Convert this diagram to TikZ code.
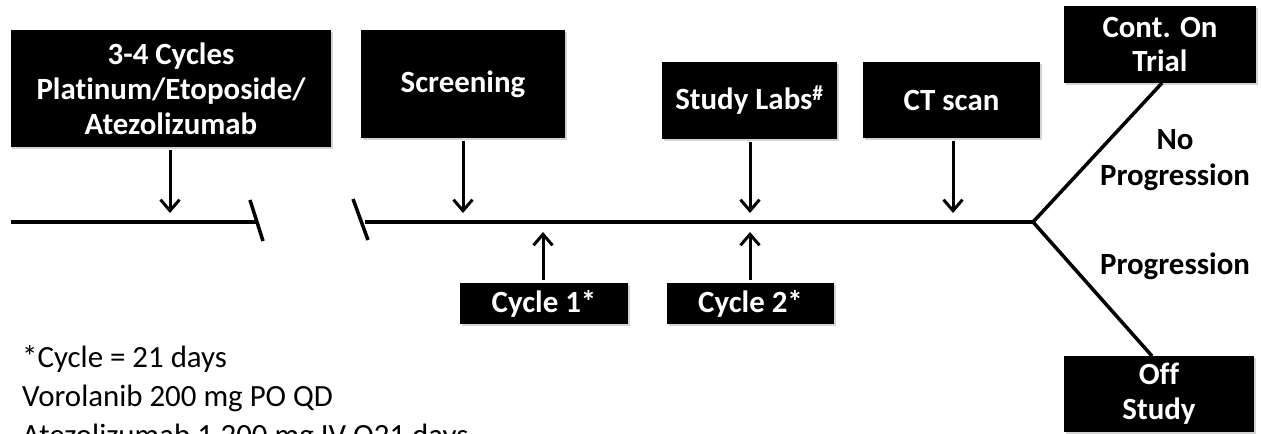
\documentclass[tikz,border=0pt]{standalone}
\usepackage{fontspec}
\setmainfont[Ligatures=NoCommon]{Carlito}
\usetikzlibrary{arrows.meta,shadows}
\tikzset{
  blk/.style={fill=black, text=white, font=\bfseries\fontsize{31}{35}\selectfont, align=center,
     inner sep=0pt, drop shadow={opacity=0.35, shadow xshift=1.5bp, shadow yshift=-2bp}},
  lbl/.style={font=\bfseries\fontsize{31}{36}\selectfont, align=center, inner sep=0pt},
  foot/.style={anchor=base west, inner sep=0pt, font=\fontsize{31}{39}\selectfont},
  tl/.style={line width=3.5bp},
  arr/.style={line width=3bp, -{Straight Barb[length=11bp,width=19bp,line width=3bp]}},
}
\begin{document}
\begin{tikzpicture}[x=1bp,y=-1bp]
\useasboundingbox (0,0) rectangle (1262,434);
% boxes
\node[blk, minimum width=320bp, minimum height=117bp] (chemo) at (171,88.5) {3-4 Cycles\\Platinum/Etoposide/\\Atezolizumab};
\node[blk, minimum width=204bp, minimum height=108bp] (screen) at (463,84) {Screening};
\node[blk, minimum width=175bp, minimum height=77bp] (labs) at (749.5,100.5) {Study Labs\textsuperscript{\#}};
\node[blk, minimum width=177bp, minimum height=76bp] (ct) at (951.5,100) {CT scan};
\node[blk, minimum width=192bp, minimum height=77bp] (cont) at (1160,44.5) {Cont. On\\Trial};
\node[blk, minimum width=190bp, minimum height=76bp] (off) at (1159,394) {Off\\Study};
\node[blk, minimum width=168bp, minimum height=41bp] (c1) at (544,303.5) {Cycle 1*};
\node[blk, minimum width=167bp, minimum height=41bp] (c2) at (750.5,303.5) {Cycle 2*};
% labels
\node[lbl] (nop) at (1175,160) {No\\Progression};
\node[lbl] (prog) at (1175,266) {Progression};
% timeline coordinates
\coordinate (l0) at (11,222);
\coordinate (l1) at (257,222);
\coordinate (t1a) at (250,200);
\coordinate (t1b) at (263,241);
\coordinate (t2a) at (353,199);
\coordinate (t2b) at (368,240);
\coordinate (r0) at (365,222);
\coordinate (br) at (1033,222);
\coordinate (offin) at (1152,356);
\coordinate (contin) at (1162,83);
\draw[tl] (l0) -- (l1);
\draw[tl] (t1a) -- (t1b);
\draw[tl] (t2a) -- (t2b);
\draw[tl] (r0) -- (br);
\draw[tl] (br) -- (contin);
\draw[tl] (br) -- (offin);
% arrow targets
\coordinate (a1) at (170,213);
\coordinate (a2) at (463,213);
\coordinate (a3) at (750,213);
\coordinate (a4) at (953,213);
\coordinate (u1) at (543,232);
\coordinate (u2) at (750,232);
\draw[arr] ([yshift=-3bp]chemo.south -| a1) -- (a1);
\draw[arr] ([yshift=-3bp]screen.south -| a2) -- (a2);
\draw[arr] ([yshift=-3bp]labs.south -| a3) -- (a3);
\draw[arr] ([yshift=-3bp]ct.south -| a4) -- (a4);
\draw[arr] ([yshift=3bp]c1.north -| u1) -- (u1);
\draw[arr] ([yshift=3bp]c2.north -| u2) -- (u2);
% footnote
\node[foot] (fn1) at (22,368) {*Cycle = 21 days};
\node[foot] (fn2) at (22,407) {Vorolanib 200 mg PO QD};
\node[foot] (fn3) at (22,446) {Atezolizumab 1,200 mg IV Q21 days};
\end{tikzpicture}
\end{document}
